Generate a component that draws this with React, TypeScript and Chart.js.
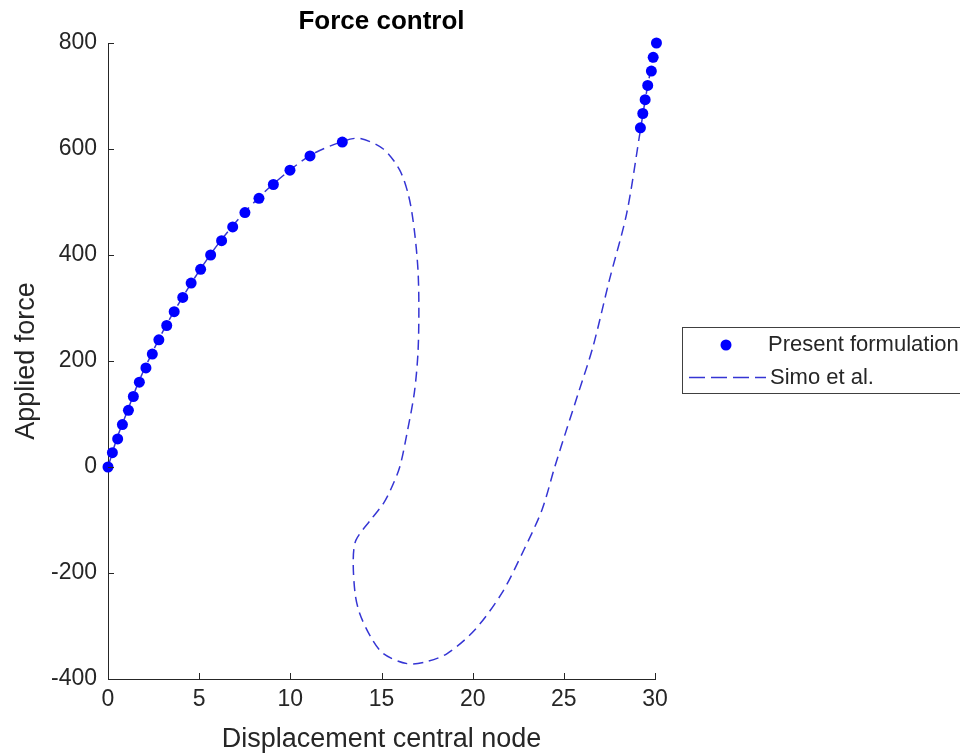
import React, { useEffect, useRef } from "react";
import { Chart, registerables } from "chart.js";

Chart.register(...registerables);

const chartTitle = "Force control";
const xAxisTitle = "Displacement central node";
const yAxisTitle = "Applied force";
const seriesNames = ["Present formulation", "Simo et al."];

const xTickValues = [0, 5, 10, 15, 20, 25, 30];
const yTickValues = [-400, -200, 0, 200, 400, 600, 800];

// Present formulation (markers)
const presentX = [
  0, 0.24, 0.53, 0.79, 1.12, 1.39, 1.72, 2.08, 2.43, 2.79, 3.22, 3.63, 4.1, 4.56,
  5.08, 5.63, 6.23, 6.84, 7.51, 8.28, 9.07, 9.98, 11.08, 12.85,
  29.2, 29.33, 29.46, 29.6, 29.8, 29.9, 30.08,
];
const presentY = [
  0, 27, 53, 80, 107, 133, 160, 187, 213, 240, 267, 293, 320, 347,
  373, 400, 427, 453, 480, 507, 533, 560, 587, 613,
  640, 667, 693, 720, 747, 773, 800,
];

// Simo et al. (dashed reference curve)
const simoX = [
  0, 0.5, 1.1, 1.7, 2.4, 3.2, 4.1, 5.1, 6.2, 7.5, 9.1, 11.1, 12.85, 13.8, 15.1,
  16.0, 16.5, 16.8, 17.0, 17.05, 17.0, 16.8, 16.4, 16.0, 15.5, 15.1, 14.4, 13.6,
  13.45, 13.55, 13.8, 14.4, 15.1, 16.4, 17.5, 18.6, 20.1, 21.6, 22.8, 23.8, 24.5,
  25.2, 25.8, 26.6, 27.5, 28.45, 29.2, 29.6, 30.08,
];
const simoY = [
  0, 55, 109, 162, 214, 268, 321, 375, 428, 481, 535, 588, 614, 620, 600,
  560, 510, 447, 372, 300, 215, 140, 64, 0, -43, -69, -100, -138,
  -175, -238, -276, -320, -352, -371, -367, -352, -308, -238, -157, -81, 0,
  76, 140, 227, 353, 479, 636, 720, 800,
];

const TEXT = "#262626";
const FONT = "'Liberation Sans', Arial, Helvetica, sans-serif";
const LINE_COLOR = "#3535d4";

export default function App() {
  const ref = useRef<HTMLCanvasElement | null>(null);

  useEffect(() => {
    const canvas = ref.current;
    if (!canvas) return;

    const decor = {
      id: "decor",
      afterDraw(chart: any) {
        const { ctx, chartArea } = chart;
        const xs = chart.scales.x;
        const ys = chart.scales.y;
        ctx.save();
        // inward tick marks
        ctx.strokeStyle = TEXT;
        ctx.lineWidth = 1;
        ctx.beginPath();
        for (const v of xTickValues) {
          const px = Math.round(xs.getPixelForValue(v)) + 0.5;
          ctx.moveTo(px, chartArea.bottom);
          ctx.lineTo(px, chartArea.bottom - 6);
        }
        for (const v of yTickValues) {
          const py = Math.round(ys.getPixelForValue(v)) + 0.5;
          ctx.moveTo(chartArea.left, py);
          ctx.lineTo(chartArea.left + 6, py);
        }
        ctx.stroke();

        // title
        ctx.fillStyle = "#000000";
        ctx.font = `bold 26px ${FONT}`;
        ctx.textAlign = "center";
        ctx.textBaseline = "middle";
        ctx.fillText(chartTitle, (chartArea.left + chartArea.right) / 2, 22);

        // legend
        const lx = 682, ly = 327, lw = 290, lh = 66;
        ctx.fillStyle = "#ffffff";
        ctx.fillRect(lx, ly, lw, lh);
        ctx.strokeStyle = "#404040";
        ctx.lineWidth = 1;
        ctx.strokeRect(lx + 0.5, ly + 0.5, lw, lh);
        ctx.fillStyle = "#0000ff";
        ctx.beginPath();
        ctx.arc(726, 345, 5.5, 0, Math.PI * 2);
        ctx.fill();
        ctx.strokeStyle = LINE_COLOR;
        ctx.lineWidth = 1.5;
        ctx.setLineDash([16, 6]);
        ctx.beginPath();
        ctx.moveTo(689, 377.5);
        ctx.lineTo(766, 377.5);
        ctx.stroke();
        ctx.setLineDash([]);
        ctx.fillStyle = TEXT;
        ctx.font = `22px ${FONT}`;
        ctx.textAlign = "left";
        ctx.textBaseline = "middle";
        ctx.fillText(seriesNames[0], 768, 345);
        ctx.fillText(seriesNames[1], 770, 378);
        ctx.restore();
      },
    };

    const chart = new Chart(canvas, {
      type: "scatter",
      data: {
        datasets: [
          {
            label: seriesNames[0],
            data: presentX.map((x, i) => ({ x, y: presentY[i] })),
            backgroundColor: "#0000ff",
            borderColor: "#0000ff",
            borderWidth: 0,
            pointRadius: 5.5,
            showLine: false,
            clip: false,
          },
          {
            label: seriesNames[1],
            data: simoX.map((x, i) => ({ x, y: simoY[i] })),
            borderColor: LINE_COLOR,
            borderWidth: 1.5,
            borderDash: [10, 6],
            pointRadius: 0,
            showLine: true,
            tension: 0.3,
            fill: false,
            clip: false,
          },
        ],
      },
      options: {
        responsive: false,
        animation: false,
        layout: { padding: { top: 43, right: 305, left: 0, bottom: 0 } },
        plugins: {
          legend: { display: false },
          tooltip: { enabled: false },
          title: { display: false },
        },
        scales: {
          x: {
            type: "linear",
            min: 0,
            max: 30,
            afterFit: (s: any) => {
              s.height = 77;
            },
            afterBuildTicks: (s: any) => {
              s.ticks = xTickValues.map((v) => ({ value: v }));
            },
            grid: { display: true, drawOnChartArea: false, drawTicks: false },
            border: { display: true, color: TEXT, width: 1 },
            ticks: {
              color: TEXT,
              font: { family: FONT, size: 23 },
              padding: 7,
              maxRotation: 0,
            },
            title: {
              display: true,
              text: xAxisTitle,
              color: TEXT,
              font: { family: FONT, size: 27 },
              padding: { top: 0, bottom: 0 },
            },
          },
          y: {
            type: "linear",
            min: -400,
            max: 800,
            afterFit: (s: any) => {
              s.width = 108;
            },
            afterBuildTicks: (s: any) => {
              s.ticks = yTickValues.map((v) => ({ value: v }));
            },
            grid: { display: true, drawOnChartArea: false, drawTicks: false },
            border: { display: true, color: TEXT, width: 1 },
            ticks: {
              color: TEXT,
              font: { family: FONT, size: 23 },
              padding: 11,
            },
            title: {
              display: true,
              text: yAxisTitle,
              color: TEXT,
              font: { family: FONT, size: 27 },
              padding: { top: 10, bottom: 0 },
            },
          },
        },
      },
      plugins: [decor],
    });

    return () => chart.destroy();
  }, []);

  return (
    <div style={{ position: "absolute", left: 0, top: 0, width: 960, height: 756, background: "#fff" }}>
      <canvas ref={ref} width={960} height={756} style={{ width: 960, height: 756, display: "block" }} />
    </div>
  );
}
